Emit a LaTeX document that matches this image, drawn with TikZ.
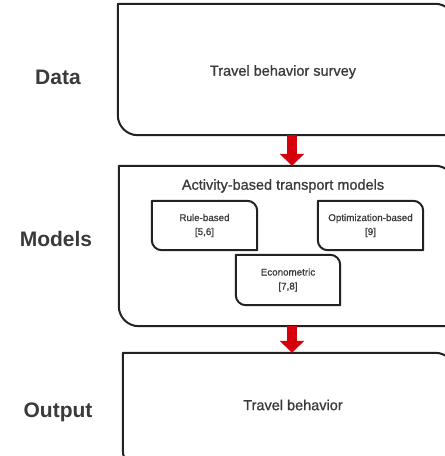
\documentclass[tikz,border=0pt]{standalone}
\usepackage{fontspec}
\setmainfont{Liberation Sans}
\newfontfamily\medfont{Liberation Sans}[FakeBold=0.9]
\usetikzlibrary{arrows.meta,calc}
\definecolor{txt}{HTML}{3A3A3A}
\definecolor{edge}{HTML}{222222}
\definecolor{arrowred}{HTML}{D5000C}
\newcommand\diagbox[2]{%
  \draw[boxline] (#1.north west) -- ([xshift=-#2]#1.north east)
    arc[start angle=90,end angle=0,radius=#2] -- (#1.south east)
    -- ([xshift=#2]#1.south west)
    arc[start angle=270,end angle=180,radius=#2] -- cycle;}
\begin{document}
\begin{tikzpicture}[x=1pt,y=1pt,
  boxline/.style={draw=edge,line width=2pt,line join=round},
  area/.style={draw=none,inner sep=0pt},
  bigtxt/.style={text=txt,font=\medfont\fontsize{14.5}{18}\selectfont},
  smalltxt/.style={text=txt,align=center,font=\medfont\fontsize{9.8}{13}\selectfont},
  sidelabel/.style={text=txt,font=\fontsize{21}{24}\selectfont\bfseries},
  flow/.style={draw=arrowred,line width=10pt,-{Triangle[width=24pt,length=12pt]}}]
\useasboundingbox (0,0) rectangle (445,456);
\clip (0,0) rectangle (445,456);
% outer boxes
\node[area,minimum width=337pt,minimum height=131pt] (data) at (286.5,386.5) {};
\node[area,minimum width=336pt,minimum height=160pt] (models) at (287,210) {};
\node[area,minimum width=332pt,minimum height=117pt] (output) at (289,44.5) {};
\diagbox{data}{20pt}
\diagbox{models}{20pt}
\diagbox{output}{20pt}
% inner boxes
\node[area,smalltxt,minimum width=105pt,minimum height=49pt] (rule) at (204.5,230.5) {Rule-based\\[1pt][5,6]};
\node[area,smalltxt,minimum width=105pt,minimum height=49pt] (opt) at (370.5,230.5) {Optimization-based\\[1pt][9]};
\node[area,smalltxt,minimum width=104pt,minimum height=50pt] (econ) at (288,176) {Econometric\\[1pt][7,8]};
\diagbox{rule}{10pt}
\diagbox{opt}{10pt}
\diagbox{econ}{10pt}
% texts
\node[bigtxt] (tbs) at (283,384) {Travel behavior survey};
\node[bigtxt] (abm) at (283,270) {Activity-based transport models};
\node[bigtxt] (tb) at (293,51) {Travel behavior};
\node[sidelabel] (ldata) at (58,379) {Data};
\node[sidelabel] (lmodels) at (56,217) {Models};
\node[sidelabel] (loutput) at (58,44) {Output};
% arrows
\coordinate (ax) at (292,0);
\draw[flow] (data.south -| ax) -- (models.north -| ax);
\draw[flow] (models.south -| ax) -- (output.north -| ax);
\end{tikzpicture}
\end{document}
